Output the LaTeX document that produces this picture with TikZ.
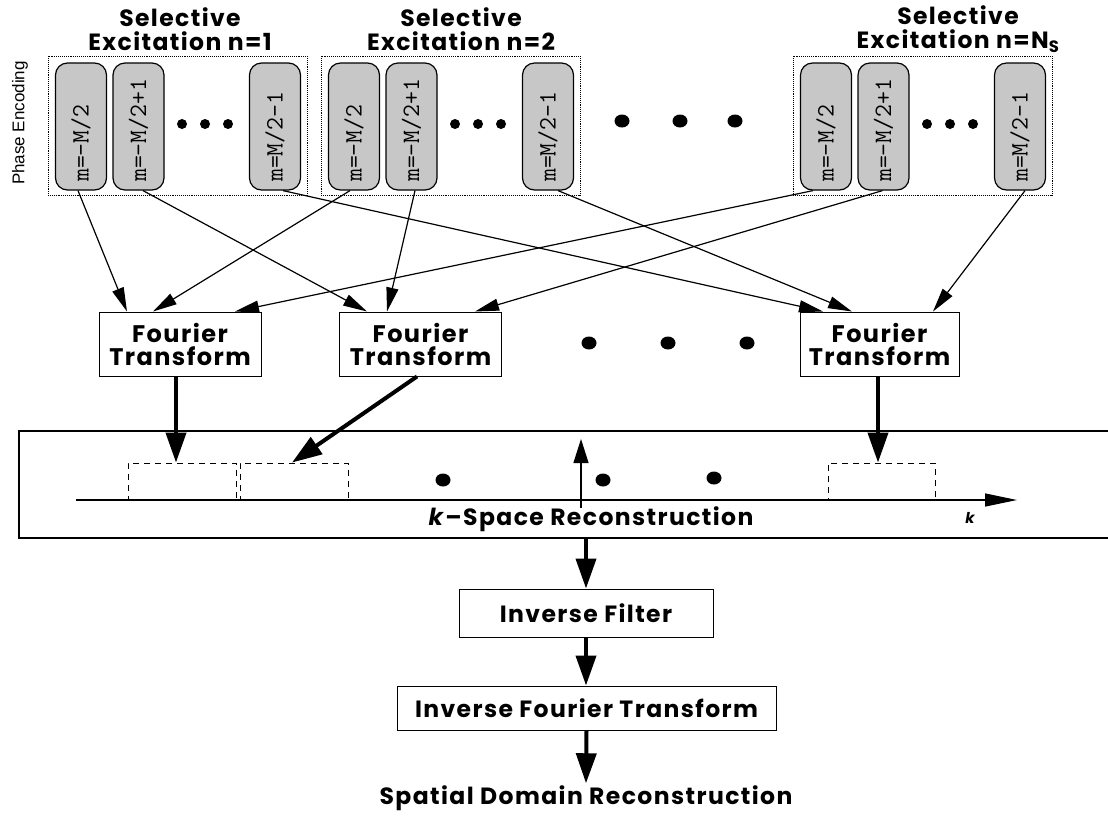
\documentclass[tikz,border=0pt]{standalone}
\usepackage{fontspec}
\setmainfont{Poppins}
\newfontfamily\gfont[LetterSpace=6]{Poppins}
\newfontfamily\pefont{Liberation Sans}
\usetikzlibrary{arrows.meta}
\begin{document}
\begin{tikzpicture}[x=1pt,y=-1pt,
  grp/.style={draw, densely dotted, line width=0.9pt, minimum width=259pt, minimum height=139pt, inner sep=0},
  pebox/.style={draw, line width=1.2pt, rounded corners=12pt, fill=black!22, minimum width=51pt, minimum height=127pt, inner sep=0},
  pelabel/.style={rotate=90, anchor=west, font=\ttfamily\fontsize{25}{25}\selectfont, inner sep=0},
  title/.style={align=center, font=\gfont\bfseries\fontsize{23.5}{24.5}\selectfont, inner sep=0},
  ftbox/.style={draw, line width=1pt, minimum width=162pt, minimum height=64pt, align=center, font=\gfont\bfseries\fontsize{24}{23}\selectfont, inner sep=0},
  procbox/.style={draw, line width=1pt, inner sep=0, font=\gfont\bfseries\fontsize{23.5}{22}\selectfont},
  kbox/.style={draw, dashed, dash pattern=on 6pt off 5pt, line width=0.9pt, minimum width=108pt, minimum height=37pt, inner sep=0},
  thinarrow/.style={line width=1.2pt, -{Triangle[length=24pt,width=12pt]}},
  thickarrow/.style={line width=4pt, -{Triangle[length=30pt,width=20pt]}},
]
\useasboundingbox (0,0) rectangle (1108,815);

% titles
\node[title] (t1) at (180,29) {Selective\\Excitation n=1};
\node[title] (t2) at (461,29) {Selective\\Excitation n=2};
\node[title] (t3) at (958,29) {Selective\\Excitation n=N\textsubscript{S}};
\node[rotate=90, font=\pefont\fontsize{17}{17}\selectfont, inner sep=0] (pe) at (20,123) {Phase Encoding};

% groups
\foreach \g/\L in {1/48, 2/321, 3/793} {
  \node[grp] (g\g) at (\L+129.5,125.5) {};
  \node[pebox] (g\g a) at (\L+33,126.5) {};
  \node[pebox] (g\g b) at (\L+90.5,126.5) {};
  \node[pebox] (g\g c) at (\L+227,126.5) {};
  \node[pelabel] at (\L+33,182) {m=-M/2};
  \node[pelabel] at (\L+90.5,182) {m=-M/2+1};
  \node[pelabel] at (\L+227,182) {m=M/2-1};
  \foreach \d in {134,157,180} \fill (\L+\d,124) circle (5pt);
}
\foreach \x in {622,680,735} \fill (\x,121) ellipse [x radius=7.5pt, y radius=6.5pt];

% Fourier transforms
\node[ftbox] (ft1) at (180,344) {Fourier\\Transform};
\node[ftbox] (ft2) at (420.5,344) {Fourier\\Transform};
\node[ftbox, minimum width=159pt] (ft3) at (879.5,344) {Fourier\\Transform};
\foreach \x in {589,668,747} \fill (\x,343) ellipse [x radius=7.5pt, y radius=6.5pt];

% thin arrows
\draw[thinarrow] ([xshift=-3pt]g1a.south) -- ([xshift=-53pt]ft1.north);
\draw[thinarrow] ([xshift=-4pt]g2a.south) -- ([xshift=-27pt]ft1.north);
\draw[thinarrow] ([xshift=-13pt]g3a.south) -- ([xshift=55pt]ft1.north);
\draw[thinarrow] ([xshift=4.5pt]g1b.south) -- ([xshift=-53.5pt]ft2.north);
\draw[thinarrow] ([xshift=3.5pt]g2b.south) -- ([xshift=-33.5pt]ft2.north);
\draw[thinarrow] ([xshift=-1pt]g3b.south) -- ([xshift=54.5pt]ft2.north);
\draw[thinarrow] ([xshift=8pt]g1c.south) -- ([xshift=-56.5pt]ft3.north);
\draw[thinarrow] ([xshift=10pt]g2c.south) -- ([xshift=-27.5pt]ft3.north);
\draw[thinarrow] ([xshift=5pt]g3c.south) -- ([xshift=53.5pt]ft3.north);

% k-space
\node[draw, line width=1.2pt, minimum width=1093pt, minimum height=107pt, inner sep=0] (ks) at (565.5,484.5) {};
\node[kbox] (kA) at (182,481.5) {};
\node[kbox] (kB) at (294,481.5) {};
\node[kbox, minimum width=107pt] (kC) at (881.5,481.5) {};
\coordinate (axL) at (76,500);
\coordinate (axR) at (1017,500);
\coordinate (ayB) at (581,508);
\coordinate (ayT) at (581,439);
\draw[line width=1.2pt, -{Triangle[length=32pt,width=13pt]}] (axL) -- (axR);
\draw[line width=1.2pt, -{Triangle[length=24pt,width=15pt]}] (ayB) -- (ayT);
\foreach \x/\y in {443/480, 603/480, 714/478} \fill (\x,\y) ellipse [x radius=7.5pt, y radius=6.5pt];
\node[font=\bfseries\itshape\fontsize{15}{15}\selectfont, inner sep=0] (klab) at (970,518) {k};
\node[font=\gfont\bfseries\fontsize{23.5}{22}\selectfont, inner sep=0] (kslab) at (591,519) {\textit{k}\textendash Space Reconstruction};

% thick arrows
\draw[thickarrow] ([xshift=-4pt]ft1.south) -- ([xshift=-6pt]kA.north);
\draw[thickarrow] ([xshift=-3.5pt]ft2.south) -- ([xshift=-2pt]kB.north);
\draw[thickarrow] ([xshift=-1.5pt]ft3.south) -- ([xshift=-3.5pt]kC.north);

% lower chain
\node[procbox, minimum width=254pt, minimum height=48pt] (if) at (586,613) {Inverse Filter};
\node[procbox, minimum width=379pt, minimum height=44pt] (ift) at (586.5,708) {Inverse Fourier Transform};
\node[font=\gfont\bfseries\fontsize{23.5}{22}\selectfont, inner sep=2pt] (sdr) at (586,798) {Spatial Domain Reconstruction};
\draw[thickarrow] (if.north |- ks.south) -- (if.north);
\draw[thickarrow] (if.south) -- (if.south |- ift.north);
\draw[thickarrow] (ift.south) -- (sdr.north);
\end{tikzpicture}
\end{document}
